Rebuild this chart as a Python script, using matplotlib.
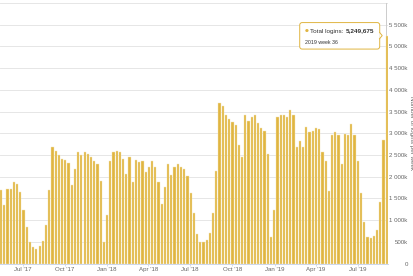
import matplotlib
matplotlib.use('Agg')
import numpy as np
import matplotlib.pyplot as plt
import matplotlib.dates as mdates
from matplotlib.patches import FancyBboxPatch, Polygon
from matplotlib.transforms import IdentityTransform
import datetime as dt

plt.rcParams['font.family'] = ['Liberation Sans', 'DejaVu Sans']

# weekly logins, thousands; first week starts Mon 2017-05-15, last is 2019 week 36
first_week = dt.date(2017, 5, 15)
logins_k = [
    1697, 1336, 1713, 1713, 1882, 1820, 1636, 1237, 845, 499,
    376, 338, 399, 522, 891, 1697, 2673, 2596, 2488, 2404,
    2381, 2304, 1812, 2166, 2573, 2488, 2565, 2511, 2442, 2350,
    2289, 1905, 499, 1114, 2350, 2573, 2588, 2565, 2411, 2058,
    2458, 1866, 2381, 2335, 2350, 2112, 2227, 2350, 2227, 1874,
    1359, 1766, 2289, 2043, 2227, 2289, 2227, 2166, 2020, 1613,
    1160, 684, 484, 499, 545, 699, 1160, 2135, 3694, 3617,
    3418, 3333, 3264, 3195, 2734, 2458, 3418, 3287, 3379, 3418,
    3226, 3110, 3057, 2527, 599, 1237, 3379, 3418, 3418, 3379,
    3533, 3418, 2673, 2811, 2673, 3141, 3026, 3057, 3110, 3087,
    2573, 2365, 1674, 2965, 3018, 2965, 2289, 2988, 2965, 3218,
    2965, 2350, 1628, 960, 599, 584, 622, 783, 1413, 2849,
    5249.675,
]
tooltip_label = "2019 week 36"
series_name = "Total logins"
y_title = "Number of logins per week"

gold = '#e0b541'
grey_txt = '#666666'

weeks = [first_week + dt.timedelta(weeks=i) for i in range(len(logins_k))]
x = mdates.date2num(weeks)

fig = plt.figure(figsize=(4.14, 2.76), dpi=100)
ax = fig.add_axes([0.0, 12.5 / 276, 388 / 414, 260.5 / 276])

ax.axvline(x[-1] - 0.5, color='#cccccc', lw=0.7, zorder=1)
ax.bar(x, logins_k, width=4.7, color=gold, edgecolor='#f5e6b8', linewidth=0.3, zorder=2)

ax.set_xlim(x[0] - 2.2, x[-1] + 2.8)
ax.set_ylim(0, 6000)

ax.xaxis.set_major_locator(mdates.MonthLocator(bymonth=[1, 4, 7, 10]))
ax.xaxis.set_major_formatter(mdates.DateFormatter("%b '%y"))

def fmt_k(v, pos):
    if v >= 6000:
        return ''
    if v == 0:
        return '0'
    v = int(round(v))
    if v >= 1000:
        return '%d %03dk' % (v // 1000, v % 1000)
    return '%dk' % v

ax.set_yticks(np.arange(0, 6001, 500))
ax.yaxis.set_major_formatter(plt.FuncFormatter(fmt_k))
ax.yaxis.tick_right()
ax.tick_params(axis='y', length=0, pad=14.2, labelsize=4.4, labelcolor=grey_txt)
for lab in ax.get_yticklabels():
    lab.set_horizontalalignment('right')
ax.tick_params(axis='x', length=1.6, width=0.6, color='#ccd6eb', pad=0.6,
               labelsize=4.4, labelcolor=grey_txt)

ax.grid(axis='y', color='#e6e6e6', lw=0.7, zorder=0)
ax.set_axisbelow(True)
for s in ['top', 'left', 'right']:
    ax.spines[s].set_visible(False)
ax.spines['bottom'].set_color('#ccd6eb')
ax.spines['bottom'].set_linewidth(0.7)

ax.yaxis.set_label_position('right')
ax.set_ylabel(y_title, rotation=270, fontsize=4.5, color=grey_txt, va='center', ha='center')
ax.yaxis.set_label_coords(412 / 388, 0.5)

# tooltip on last week
px, py = ax.transData.transform((x[-1], logins_k[-1]))
ident = IdentityTransform()
right = px - 7
left = right - 80
top = py + 13
bottom = py - 13.5
box = FancyBboxPatch((left, bottom), right - left, top - bottom,
                     boxstyle='round,pad=0,rounding_size=2.5',
                     facecolor='white', edgecolor=gold, lw=0.7,
                     transform=ident, zorder=10)
fig.add_artist(box)
notch = Polygon([[right - 0.5, py + 3.5], [px - 4.5, py], [right - 0.5, py - 3.5]],
                closed=False, facecolor='white', edgecolor=gold, lw=0.7,
                transform=ident, zorder=11)
fig.add_artist(notch)
fig.text(left + 5, py + 4.5, u'\u25cf', fontsize=3.2, color=gold,
         va='center', ha='left', transform=ident, zorder=12, family='DejaVu Sans')
fig.text(left + 10, py + 4.5, series_name + ':', fontsize=4.6, color='#333333',
         va='center', ha='left', transform=ident, zorder=12)
fig.text(right - 5, py + 4.5, '{:,}'.format(int(round(logins_k[-1] * 1000))),
         fontsize=4.6, fontweight='bold', color='#333333',
         va='center', ha='right', transform=ident, zorder=12)
fig.text(left + 5, py - 7, tooltip_label, fontsize=3.8, color='#333333',
         va='center', ha='left', transform=ident, zorder=12)

fig.savefig('out.png', dpi=100)
